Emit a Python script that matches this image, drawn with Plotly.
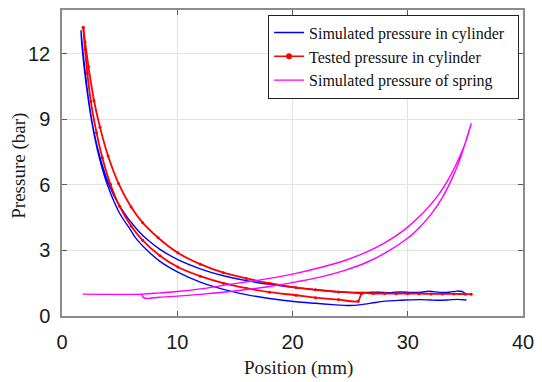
import plotly.graph_objects as go

# Simulated pressure in cylinder (blue): upper branch (x ascending) and lower branch (x ascending)
blue_up_x = [1.64, 1.9, 2.33, 2.8, 3.3, 4.06, 5.0, 6.6, 7.5, 8.5, 10.05, 12, 14, 16, 18, 20.3, 22, 23.5, 25,
             26.5, 27.5, 28.5, 29.4, 30.3, 31.2, 31.9, 32.8, 33.6, 34.3, 34.7, 35.0]
blue_up_y = [13.07, 11.7, 9.82, 8.35, 7.25, 6.03, 5.03, 3.9, 3.45, 3.05, 2.58, 2.16, 1.84, 1.62, 1.45, 1.3, 1.2, 1.12, 1.08,
             1.08, 1.09, 1.07, 1.1, 1.08, 1.09, 1.13, 1.08, 1.09, 1.14, 1.12, 1.03]
blue_lo_x = [1.64, 1.9, 2.3, 2.8, 3.3, 3.92, 5.0, 6.0, 6.35, 7.5, 8.5, 10.05, 12, 14, 16, 18, 20.3, 22, 23.5, 24.9,
             26, 27.2, 28.3, 29.4, 30.2, 31.1, 32.0, 32.8, 33.6, 34.3, 35.1]
blue_lo_y = [13.07, 11.46, 9.82, 8.27, 7.11, 6.03, 4.7, 3.9, 3.6, 2.95, 2.5, 2.01, 1.55, 1.22, 0.98, 0.8, 0.65, 0.58, 0.52, 0.48,
             0.52, 0.62, 0.69, 0.72, 0.74, 0.75, 0.73, 0.72, 0.74, 0.76, 0.73]

# Tested pressure in cylinder (red)
red_in_x = [1.84, 2.0, 2.2, 2.5, 3.0, 3.5, 4.2, 5.0, 6.0, 7.0, 8.5, 10.05, 12, 14, 16, 18, 20.3, 22, 24, 25.7,
            26.0, 27, 28, 29, 30, 31, 32, 33, 34, 35, 35.5]
red_in_y = [13.2, 12.2, 11.1, 9.82, 8.38, 7.24, 6.03, 5.02, 4.12, 3.46, 2.76, 2.24, 1.82, 1.5, 1.27, 1.09, 0.95, 0.84, 0.75, 0.68,
            1.03, 1.03, 1.03, 1.02, 1.02, 1.02, 1.01, 1.01, 1.01, 1.0, 1.0]
red_out_x = [1.84, 2.0, 2.3, 2.78, 3.3, 4.0, 4.92, 6.0, 7.0, 8.34, 10.05, 12, 14, 16, 18, 20.3, 22, 24, 26]
red_out_y = [13.2, 12.54, 11.4, 9.85, 8.63, 7.32, 6.05, 4.99, 4.27, 3.58, 2.89, 2.37, 1.98, 1.72, 1.5, 1.3, 1.2, 1.1, 1.04]

# Simulated pressure of spring (magenta)
mag_up_x = [1.8, 6.95, 8.5, 10, 12, 14, 16, 18, 20.3, 22.5, 24.6, 26.5, 28, 29.7, 31.3, 32.5, 33.4, 34.2, 34.7, 35.1, 35.5]
mag_up_y = [1.0, 1.0, 1.06, 1.12, 1.24, 1.4, 1.56, 1.72, 1.95, 2.23, 2.55, 2.95, 3.35, 3.94, 4.7, 5.43, 6.14, 6.94, 7.53, 8.07, 8.8]
mag_lo_x = [35.5, 35.0, 34.5, 33.8, 33.0, 32.0, 30.8, 29.9, 28.2, 26.5, 24.6, 22.5, 20.3, 18, 16, 14, 12, 10.05, 8.5, 7.1, 6.95]
mag_lo_y = [8.8, 7.94, 7.13, 6.24, 5.42, 4.64, 3.94, 3.52, 2.93, 2.47, 2.1, 1.79, 1.56, 1.35, 1.21, 1.09, 0.99, 0.91, 0.86, 0.83, 1.0]

x_ticks = [0, 10, 20, 30, 40]
y_ticks = [0, 3, 6, 9, 12]
x_title = "Position (mm)"
y_title = "Pressure (bar)"
names = ["Simulated pressure in cylinder", "Tested pressure in cylinder", "Simulated pressure of spring"]

blue_x = blue_up_x[::-1] + blue_lo_x[1:]
blue_y = blue_up_y[::-1] + blue_lo_y[1:]
mag_x = mag_up_x + mag_lo_x[1:]
mag_y = mag_up_y + mag_lo_y[1:]

BLUE = "#0000ff"
RED = "#ff0000"
MAG = "#ff00ff"
SERIF = "Liberation Serif"
SANS = "Liberation Sans"

fig = go.Figure()
fig.add_trace(go.Scatter(x=blue_x, y=blue_y, mode="lines", name=names[0] + "\u00a0\u00a0",
                         line=dict(color=BLUE, width=1.4, shape="spline", smoothing=0.8)))
fig.add_trace(go.Scatter(x=red_out_x, y=red_out_y, mode="lines+markers", showlegend=False,
                         line=dict(color=RED, width=1.8, shape="spline", smoothing=0.8),
                         marker=dict(color=RED, size=3)))
fig.add_trace(go.Scatter(x=red_in_x, y=red_in_y, mode="lines+markers", showlegend=False,
                         line=dict(color=RED, width=1.8, shape="spline", smoothing=0.8),
                         marker=dict(color=RED, size=3)))
fig.add_trace(go.Scatter(x=[None], y=[None], mode="lines+markers", name=names[1],
                         line=dict(color=RED, width=1.4), marker=dict(color=RED, size=6)))
fig.add_trace(go.Scatter(x=mag_x, y=mag_y, mode="lines", name=names[2],
                         line=dict(color=MAG, width=1.4, shape="spline", smoothing=1.0)))

axis_common = dict(
    showline=True, mirror="ticks", linecolor="#8c8c8c", linewidth=1.5,
    ticks="inside", ticklen=5, tickcolor="#5a5a5a", tickwidth=1,
    showgrid=True, gridcolor="#e3e3e3", gridwidth=1, zeroline=False,
    tickfont=dict(family=SANS, size=20, color="#1a1a1a"),
)

fig.update_xaxes(range=[0, 40], tickvals=x_ticks, ticktext=[str(v) for v in x_ticks],
                 ticklabelstandoff=7, **axis_common)
fig.update_yaxes(range=[0, 14], tickvals=y_ticks, ticktext=[str(v) for v in y_ticks],
                 ticklabelstandoff=6, **axis_common)

fig.add_annotation(text=x_title, xref="paper", yref="paper", x=0.512, y=-0.169,
                   xanchor="center", yanchor="middle", showarrow=False,
                   font=dict(family=SERIF, size=19, color="#1a1a1a"))
fig.add_annotation(text=y_title, xref="paper", yref="paper", x=-0.094, y=0.49,
                   xanchor="center", yanchor="middle", showarrow=False, textangle=-90,
                   font=dict(family=SERIF, size=19, color="#1a1a1a"))

fig.update_layout(
    width=542, height=382,
    margin=dict(l=62, r=12, t=8, b=66),
    paper_bgcolor="white", plot_bgcolor="white",
    showlegend=True,
    legend=dict(x=0.9915, y=0.985, xanchor="right", yanchor="top",
                bgcolor="white", bordercolor="#222222", borderwidth=1,
                font=dict(family=SERIF, size=16, color="#111111"),
                tracegroupgap=0, itemwidth=30),
)

fig.write_html("out.html")
